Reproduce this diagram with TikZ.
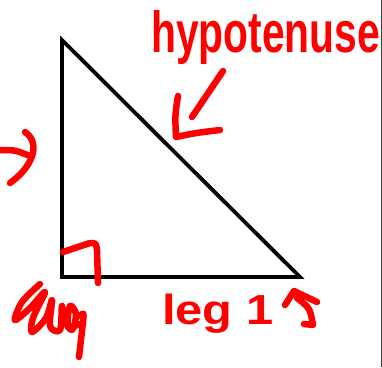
\documentclass[tikz,border=0pt]{standalone}
\usepackage{fontspec}
\setmainfont{Liberation Sans}
\usepackage{graphicx}
\usepackage{xcolor}
\definecolor{inkRed}{RGB}{255,0,0}

\begin{document}
\begin{tikzpicture}[x=1pt,y=-1pt,
side/.style={draw=black,line width=3.8pt,miter limit=20},
ink/.style={draw=inkRed,line width=6.5pt,line cap=round,line join=round},
note/.style={text=inkRed,inner sep=0pt,font=\fontsize{40}{40}\selectfont\bfseries},
frame/.style={draw=black!75,line width=1pt}]
\useasboundingbox (0,0) rectangle (382,367);

% triangle
\coordinate (apex) at (62,40);
\coordinate (corner) at (62,277);
\coordinate (tip) at (300,277);
\draw[side] (apex) -- (corner) -- (tip) -- cycle;

% right edge of the page
\coordinate (edgeTop) at (381,0);
\coordinate (edgeBot) at (381,367);
\draw[frame] (edgeTop) -- (edgeBot);

% labels
\node[note,anchor=base west] (hypLabel) at (151,52) {\scalebox{1.02}[1.45]{hypotenuse}};
\node[note,anchor=base west] (legLabel) at (162,324) {\scalebox{1.22}[1.05]{leg 1}};

% arrow to the hypotenuse
\coordinate (arrTail) at (223,71);
\coordinate (arrHead) at (192,117);
\draw[ink] (arrTail) -- (arrHead);
\draw[ink] (178,96) .. controls (175,115) .. (176,137) .. controls (195,133) .. (220,130);

% right angle mark
\draw[ink] (63,252) -- (90,243) .. controls (96,243) .. (97,250) -- (98,283);

% left edge mark
\draw[ink] (0,150) .. controls (15,150) .. (30,156);
\draw[ink] (25,132) .. controls (40,142) and (35,165) .. (10,183);

% mark after leg 1
\draw[ink] (285,305) -- (294,291) -- (317,302);
\draw[ink] (297,298) .. controls (310,308) .. (313,325) -- (304,324);

% scribbled word
\draw[ink] plot[smooth,tension=0.55] coordinates {(40,284) (22,302) (15,320) (30,308) (45,292) (33,318) (32,332) (46,318) (52,300) (50,326) (60,330) (62,306) (64,320) (72,330) (76,314) (70,306) (68,326) (80,324)};
\draw[ink] (80,316) .. controls (84,312) .. (83,322) -- (79,357);
\end{tikzpicture}
\end{document}
